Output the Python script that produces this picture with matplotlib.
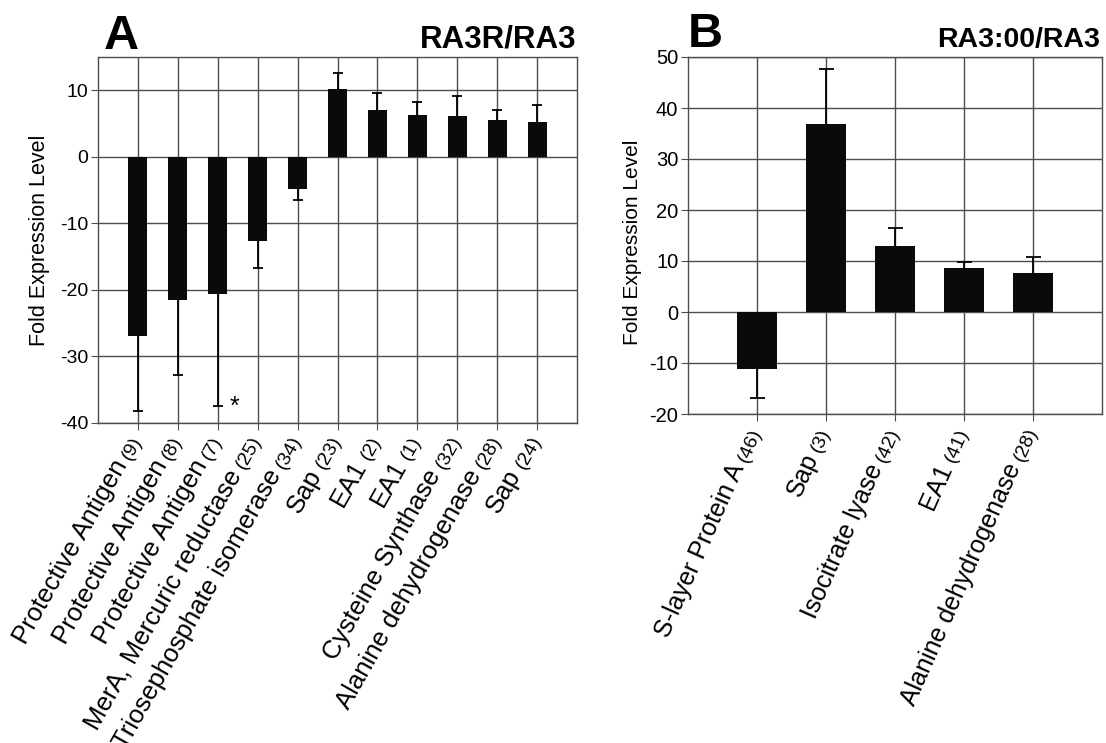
import numpy as np
import matplotlib
matplotlib.use("Agg")
import matplotlib.pyplot as plt
from matplotlib.transforms import offset_copy

plt.rcParams["font.family"] = ["Liberation Sans", "DejaVu Sans"]
plt.rcParams["axes.unicode_minus"] = False

# Panel A: RA3R/RA3
a_genes = ["Protective Antigen", "Protective Antigen", "Protective Antigen",
           "MerA, Mercuric reductase", "Triosephosphate isomerase", "Sap",
           "EA1", "EA1", "Cysteine Synthase", "Alanine dehydrogenase", "Sap"]
a_ids = ["(9)", "(8)", "(7)", "(25)", "(34)", "(23)", "(2)", "(1)", "(32)", "(28)", "(24)"]
a_vals = [-27.0, -21.5, -20.6, -12.6, -4.9, 10.15, 7.0, 6.3, 6.15, 5.6, 5.3]
a_err = [11.15, 11.25, 16.9, 4.15, 1.6, 2.5, 2.65, 1.9, 3.0, 1.5, 2.45]

# Panel B: RA3:00/RA3
b_genes = ["S-layer Protein A", "Sap", "Isocitrate lyase", "EA1", "Alanine dehydrogenase"]
b_ids = ["(46)", "(3)", "(42)", "(41)", "(28)"]
b_vals = [-11.1, 36.9, 12.9, 8.6, 7.6]
b_err = [5.8, 10.7, 3.6, 1.2, 3.2]

W, H = 1106, 743
GRID = "#4d4d4d"

fig = plt.figure(figsize=(W / 100, H / 100), dpi=100)
renderer = fig.canvas.get_renderer()


def px_axes(left, top, right, bottom):
    return fig.add_axes([left / W, 1 - bottom / H, (right - left) / W, (bottom - top) / H])


def draw_bars(ax, vals, errs, width, capsize):
    x = np.arange(len(vals))
    vals = np.asarray(vals)
    errs = np.asarray(errs)
    ax.bar(x, vals, width=width, color="#0a0a0a", zorder=2)
    # error bars point away from zero only
    lower = np.where(vals < 0, errs, 0)
    upper = np.where(vals >= 0, errs, 0)
    _, caps, _ = ax.errorbar(x, vals, yerr=[lower, upper], fmt="none", ecolor="black",
                             elinewidth=1.3, capsize=capsize, capthick=1.3, zorder=3)
    for cap in caps:
        y = np.asarray(cap.get_ydata(), dtype=float)
        cap.set_ydata(np.where(np.isclose(y, vals), np.nan, y))
    return x


def label_rotated(ax, x, name, tag, angle, size, tag_size, ox=4, oy=-17):
    base = ax.get_xaxis_transform()
    ax.text(x, 0, tag, transform=offset_copy(base, fig=fig, x=ox, y=oy, units="dots"),
            rotation=angle, rotation_mode="anchor", ha="right", va="baseline",
            fontsize=tag_size)
    probe = fig.text(0, 0, tag, fontsize=tag_size)
    w = probe.get_window_extent(renderer).width + 5
    probe.remove()
    th = np.deg2rad(angle)
    ax.text(x, 0, name,
            transform=offset_copy(base, fig=fig, x=ox - w * np.cos(th), y=oy - w * np.sin(th), units="dots"),
            rotation=angle, rotation_mode="anchor", ha="right", va="baseline",
            fontsize=size)


def style_axes(ax, tick_size):
    ax.set_axisbelow(True)
    ax.grid(True, color=GRID, lw=1.0)
    for s in ax.spines.values():
        s.set_color(GRID)
        s.set_linewidth(1.0)
    ax.tick_params(axis="both", direction="out", length=5, color=GRID, labelsize=tick_size, pad=2)
    ax.set_xticklabels([])


# ---- panel A
axA = px_axes(98, 57, 577, 423)
xa = draw_bars(axA, a_vals, a_err, 0.48, 3.6)
axA.set_xlim(-1, len(a_vals))
axA.set_ylim(-40, 15)
axA.set_yticks(np.arange(-40, 11, 10))
axA.set_xticks(xa)
style_axes(axA, 14)
axA.set_ylabel("Fold Expression Level", fontsize=15.5)
axA.yaxis.set_label_coords(-0.1, 0.5)
for i in xa:
    label_rotated(axA, i, a_genes[i], a_ids[i], 60.5, 18.5, 14)
axA.text(2 + 0.3, a_vals[2] - a_err[2], "*", fontsize=18, ha="left", va="center")

# ---- panel B
axB = px_axes(688, 57, 1102, 414)
xb = draw_bars(axB, b_vals, b_err, 0.585, 5.4)
axB.set_xlim(-1, len(b_vals))
axB.set_ylim(-20, 50)
axB.set_yticks(np.arange(-20, 51, 10))
axB.set_xticks(xb)
style_axes(axB, 14.5)
axB.set_ylabel("Fold Expression Level", fontsize=15)
axB.yaxis.set_label_coords(-0.11, 0.48)
for i in xb:
    label_rotated(axB, i, b_genes[i], b_ids[i], 66, 18, 14)

# panel titles
fig.text(104 / W, 1 - 49 / H, "A", fontsize=35, fontweight="bold", va="baseline")
fig.text(576 / W, 1 - 47 / H, "RA3R/RA3", fontsize=22.5, fontweight="bold", ha="right", va="baseline")
fig.text(688 / W, 1 - 47 / H, "B", fontsize=35, fontweight="bold", va="baseline")
fig.text(1100 / W, 1 - 47 / H, "RA3:00/RA3", fontsize=20.5, fontweight="bold", ha="right", va="baseline")

fig.savefig("out.png", dpi=100, facecolor="white")
